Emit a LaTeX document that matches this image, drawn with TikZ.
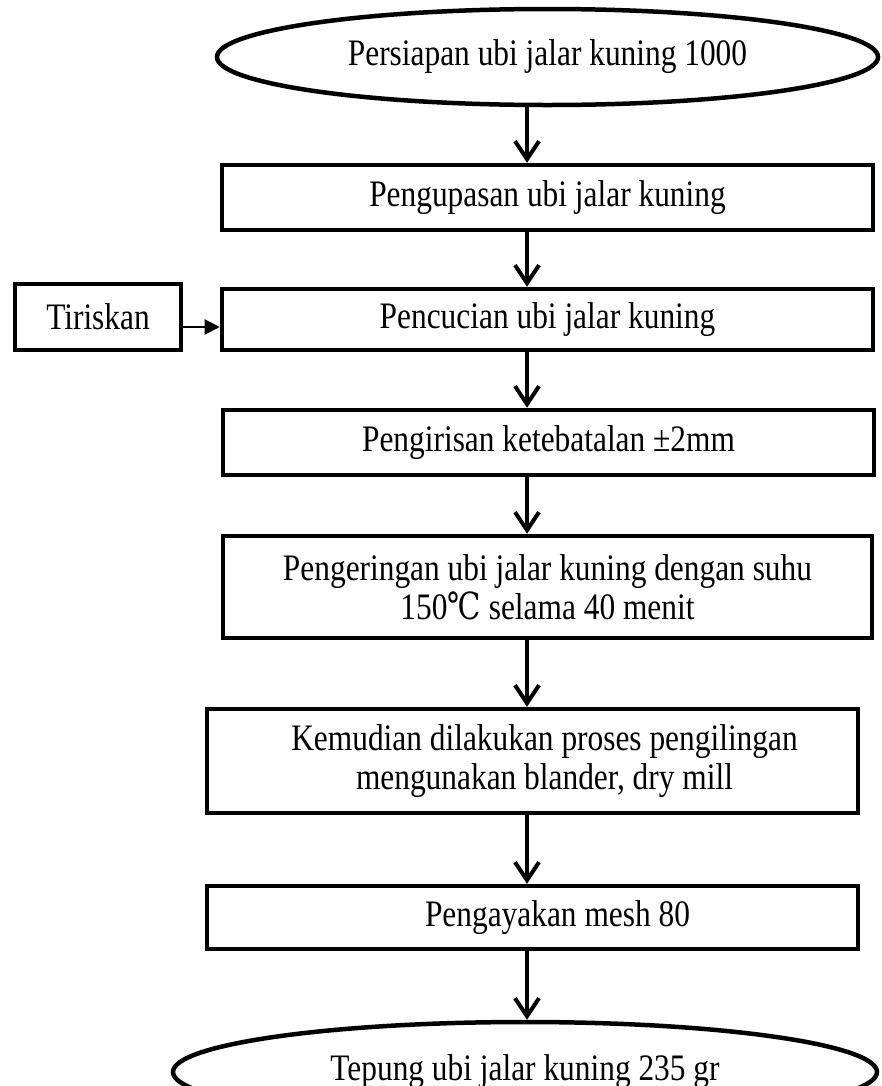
\documentclass[tikz,border=0pt]{standalone}
\usepackage{fontspec}
\setmainfont{Liberation Serif}[FakeStretch=0.84]
\newfontfamily\simbol{DejaVu Serif}[FakeStretch=0.8]
\usetikzlibrary{shapes.geometric, arrows.meta}

\begin{document}
\begin{tikzpicture}[x=1bp, y=-1bp,
    every node/.style={font=\fontsize{37.5}{39}\selectfont, align=center},
    langkah/.style={draw, line width=4.5bp, minimum width=651bp, inner sep=0pt},
    ujung/.style={draw, ellipse, line width=4.5bp, inner sep=0pt, minimum height=96bp},
    alir/.style={line width=4bp, -{Straight Barb[length=18bp, width=24bp, line width=4bp]}},
    samping/.style={line width=2bp, -{Triangle[length=15bp, width=15bp]}}]
    \useasboundingbox (0,0) rectangle (882,1086);
    \coordinate (jalur) at (527,0);
    \node[ujung, minimum width=661bp] (awal) at (547.5,57) {Persiapan ubi jalar kuning 1000};
    \node[langkah, minimum height=65bp] (kupas) at (547.5,197.5) {Pengupasan ubi jalar kuning};
    \node[langkah, minimum height=61bp] (cuci) at (547.5,319.5) {Pencucian ubi jalar kuning};
    \node[langkah, minimum width=166bp, minimum height=66bp] (tiris) at (98,317) {Tiriskan};
    \node[langkah, minimum height=65bp] (iris) at (548.5,442.5) {Pengirisan ketebatalan ±2mm};
    \node[langkah, minimum width=649bp, minimum height=102bp] (kering) at (547.5,587) {Pengeringan ubi jalar kuning dengan suhu\\150{\simbol ℃} selama 40 menit};
    \node[langkah, minimum height=104bp] (giling) at (532.5,761) {\hspace*{24bp}Kemudian dilakukan proses pengilingan\\\hspace*{24bp}mengunakan blander, dry mill};
    \node[langkah, minimum height=63bp] (ayak) at (532.5,917.5) {\hspace*{50bp}Pengayakan mesh 80};
    \node[ujung, minimum width=704bp, minimum height=100bp] (akhir) at (525,1072) {Tepung ubi jalar kuning 235 gr};
    \draw[alir] (awal.south -| jalur) -- (kupas.north -| jalur);
    \draw[alir] (kupas.south -| jalur) -- (cuci.north -| jalur);
    \draw[alir] (cuci.south -| jalur) -- (iris.north -| jalur);
    \draw[alir] (iris.south -| jalur) -- (kering.north -| jalur);
    \draw[alir] (kering.south -| jalur) -- (giling.north -| jalur);
    \draw[alir] (giling.south -| jalur) -- (ayak.north -| jalur);
    \draw[alir] (ayak.south -| jalur) -- (akhir.north -| jalur);
    \draw[samping] (tiris.east |- 0,327) -- (cuci.west |- 0,327);
\end{tikzpicture}
\end{document}
